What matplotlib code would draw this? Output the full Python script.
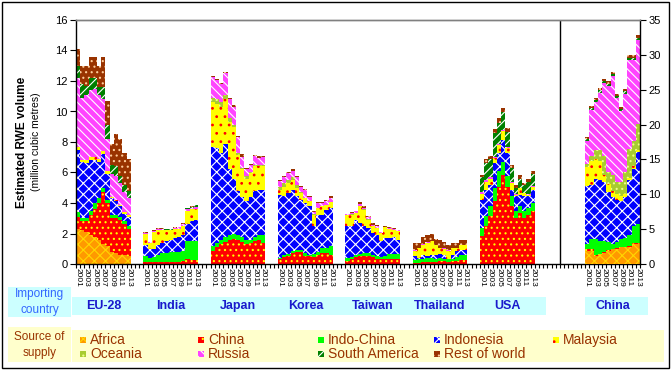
import numpy as np
import matplotlib.pyplot as plt
import matplotlib.transforms as mtransforms
from matplotlib.patches import Rectangle

plt.rcParams['font.family'] = ['Liberation Sans', 'DejaVu Sans']
plt.rcParams['hatch.linewidth'] = 0.8

countries = ['EU-28', 'India', 'Japan', 'Korea', 'Taiwan', 'Thailand', 'USA', 'China']
years = list(range(2001, 2014))
sources = ['Africa', 'China', 'Indo-China', 'Indonesia', 'Malaysia',
           'Oceania', 'Russia', 'South America', 'Rest of world']

# million m3 RWE, one row per importing country (order of `countries`), 2001..2013
# (China's row is read against the right axis)
africa = [
    [2.3, 2.2, 2.1, 1.9, 1.8, 1.6, 1.3, 1.2, 0.8, 0.7, 0.6, 0.6, 0.5],
    [0] * 13, [0] * 13, [0] * 13, [0] * 13, [0] * 13, [0] * 13,
    [1.9, 1.9, 1.2, 1.4, 1.6, 1.9, 2.1, 2.2, 2.4, 2.4, 2.5, 2.9, 2.9],
]
china = [
    [0.8, 0.6, 0.7, 1.3, 1.8, 2.4, 3.4, 2.8, 2.2, 2.3, 2.3, 2.0, 1.8],
    [0.15, 0.1, 0.1, 0.15, 0.15, 0.15, 0.15, 0.15, 0.15, 0.2, 0.3, 0.25, 0.25],
    [0.85, 1.1, 1.3, 1.45, 1.6, 1.65, 1.6, 1.45, 1.3, 1.35, 1.5, 1.55, 1.4],
    [0.34, 0.45, 0.55, 0.72, 0.76, 0.76, 0.55, 0.5, 0.45, 0.6, 0.72, 0.72, 0.6],
    [0.2, 0.3, 0.45, 0.5, 0.55, 0.55, 0.45, 0.35, 0.3, 0.3, 0.35, 0.35, 0.35],
    [0.05, 0.05, 0.1, 0.15, 0.15, 0.15, 0.2, 0.2, 0.15, 0.2, 0.2, 0.25, 0.25],
    [1.82, 2.52, 3.12, 4.1, 5.08, 5.85, 5.08, 3.78, 3.02, 3.34, 3.02, 3.24, 3.45],
    [0.2, 0.2, 0.1, 0.05, 0.05, 0.05, 0.05, 0.05, 0.05, 0.05, 0.05, 0.05, 0.05],
]
indo_china = [
    [0.3, 0.2, 0.2, 0.3, 0.4, 0.3, 0.3, 0.2, 0.2, 0.2, 0.2, 0.2, 0.2],
    [0.4, 0.3, 0.35, 0.45, 0.55, 0.6, 0.65, 0.65, 0.65, 0.65, 1.2, 1.25, 1.25],
    [0.3, 0.3, 0.3, 0.3, 0.3, 0.3, 0.3, 0.3, 0.25, 0.25, 0.25, 0.35, 0.5],
    [0.06, 0.15, 0.12, 0.11, 0.19, 0.19, 0.17, 0.1, 0.22, 0.16, 0.33, 0.33, 0.6],
    [0.2, 0.15, 0.15, 0.15, 0.15, 0.15, 0.15, 0.15, 0.15, 0.2, 0.3, 0.3, 0.3],
    [0.18, 0.25, 0.26, 0.25, 0.25, 0.21, 0.2, 0.16, 0.15, 0.13, 0.25, 0.33, 0.37],
    [0.55, 0.6, 0.66, 0.88, 0.99, 0.87, 0.66, 0.65, 0.43, 0.44, 0.43, 0.43, 0.55],
    [0.8, 1.5, 2.3, 1.85, 1.65, 1.15, 0.75, 0.85, 1.15, 1.35, 1.55, 2.55, 2.75],
]
indonesia = [
    [4.1, 3.7, 3.6, 3.35, 2.8, 2.4, 2.2, 1.7, 1.1, 0.9, 0.7, 0.5, 0.6],
    [0.7, 0.6, 0.55, 0.65, 0.7, 0.75, 0.8, 0.9, 0.95, 1.05, 1.1, 1.35, 1.4],
    [6.5, 6.2, 5.65, 6.15, 4.3, 3.65, 2.9, 2.65, 2.55, 2.8, 3.05, 2.95, 2.95],
    [4.14, 3.83, 3.98, 4.04, 3.48, 3.25, 3.26, 3.18, 1.8, 2.48, 2.19, 2.51, 2.47],
    [2.07, 2.02, 2.3, 2.04, 1.77, 1.66, 1.44, 1.39, 1.04, 1.2, 1.05, 1.1, 0.95],
    [0.28, 0.1, 0.26, 0.11, 0.22, 0.22, 0.26, 0.26, 0.06, 0.29, 0.39, 0.37, 0.33],
    [1.83, 1.75, 1.42, 1.62, 1.2, 1.42, 1.53, 0.44, 0.98, 0.77, 0.98, 0.76, 0.87],
    [8.3, 7.7, 8.6, 8.7, 8.4, 7.2, 6.7, 6.1, 5.4, 5.8, 7.9, 8.1, 10.3],
]
malaysia = [
    [0.2, 0.15, 0.2, 0.15, 0.2, 0.2, 0.2, 0.2, 0.1, 0.1, 0.1, 0.1, 0.1],
    [0.75, 0.4, 1.1, 0.95, 0.8, 0.7, 0.6, 0.6, 0.55, 0.6, 0.85, 0.75, 0.7],
    [2.95, 2.9, 3.05, 2.95, 3.1, 3.4, 2.35, 1.8, 1.5, 1.55, 1.6, 1.55, 1.55],
    [0.33, 0.65, 0.65, 0.63, 0.54, 0.45, 0.32, 0.32, 0.77, 0.43, 0.54, 0.33, 0.37],
    [0.73, 0.77, 0.44, 1.09, 1.09, 0.55, 0.43, 0.47, 0.55, 0.71, 0.62, 0.5, 0.58],
    [0.37, 0.65, 0.61, 0.87, 0.88, 0.65, 0.39, 0.38, 0.52, 0.43, 0.21, 0.28, 0.28],
    [0.4, 0.53, 0.4, 0.34, 0.53, 0.56, 0.33, 0.43, 0.12, 0.43, 0.21, 0.12, 0.21],
    [2.7, 3.5, 2.8, 2.8, 1.0, 1.2, 0.9, 0.8, 0.7, 0.5, 0.4, 0.4, 0.3],
]
oceania = [
    [0] * 13, [0] * 13,
    [0.3, 0.3, 0.3, 0.25, 0.25, 0.1, 0.15, 0.1, 0.2, 0.05, 0.1, 0.1, 0.1],
    [0.2, 0.2, 0.2, 0.2, 0.18, 0.1, 0.05, 0.05, 0.06, 0.03, 0.02, 0.01, 0.01],
    [0.02, 0.03, 0.03, 0.03, 0.02, 0.02, 0, 0, 0, 0, 0, 0, 0],
    [0] * 13, [0] * 13,
    [0.4, 0.7, 1.3, 1.5, 2.8, 1.7, 2.2, 1.7, 2.0, 3.1, 4.1, 3.7, 3.8],
]
russia = [
    [4.5, 4.05, 4.3, 4.4, 4.5, 4.2, 3.4, 2.1, 1.5, 1.6, 1.4, 1.3, 1.1],
    [0.05, 0.05, 0.05, 0.08, 0.08, 0.05, 0.05, 0.05, 0.1, 0.1, 0.15, 0.1, 0.15],
    [1.35, 1.25, 1.2, 1.4, 1.3, 1.2, 1.0, 0.7, 0.4, 0.5, 0.55, 0.45, 0.5],
    [0.36, 0.45, 0.45, 0.4, 0.53, 0.3, 0.5, 0.23, 0.12, 0.28, 0.18, 0.2, 0.25],
    [0.05, 0.08, 0.08, 0.15, 0.12, 0.12, 0.12, 0.1, 0.03, 0.03, 0.04, 0.06, 0.04],
    [0.02, 0.02, 0.05, 0.03, 0.03, 0.02, 0.02, 0.02, 0.02, 0.02, 0.02, 0.02, 0.02],
    [0.1, 0.1, 0.1, 0.06, 0.1, 0.1, 0.1, 0.1, 0.05, 0.02, 0.02, 0.05, 0.02],
    [3.3, 6.6, 6.9, 8.3, 10.4, 12.3, 14.3, 12.1, 10.2, 11.2, 12.8, 11.6, 12.0],
]
south_america = [
    [0.8, 0.9, 0.6, 0.8, 0.7, 0.5, 0.8, 0.9, 0.6, 0.6, 0.5, 0.5, 0.5],
    [0, 0, 0, 0.02, 0.02, 0.03, 0.03, 0.03, 0.02, 0.02, 0.05, 0.05, 0.1],
    [0] * 13, [0] * 13, [0] * 13, [0] * 13,
    [1.0, 1.1, 1.2, 1.57, 1.37, 1.2, 0.98, 0.9, 0.4, 0.6, 0.49, 0.8, 0.8],
    [0.3, 0.3, 0.3, 0.3, 0.3, 0.3, 0.3, 0.3, 0.3, 0.4, 0.3, 0.3, 0.3],
]
rest_of_world = [
    [1.1, 1.2, 1.3, 1.4, 1.4, 1.4, 2.0, 1.6, 1.4, 2.1, 2.4, 2.1, 2.1],
    [0.05, 0, 0.05, 0.05, 0.05, 0.02, 0.02, 0.02, 0.03, 0.08, 0.05, 0.05, 0.05],
    [0.1, 0.05, 0.05, 0.1, 0.05, 0.1, 0.1, 0.2, 0.1, 0.07, 0.1, 0.1, 0.1],
    [0.05, 0.05, 0.05, 0.1, 0.06, 0.05, 0.05, 0.05, 0.03, 0.06, 0.06, 0.07, 0.13],
    [0.01, 0.06, 0.05, 0.1, 0.08, 0.07, 0.1, 0.08, 0.03, 0.03, 0.04, 0.05, 0.03],
    [0.48, 0.31, 0.47, 0.52, 0.45, 0.42, 0.53, 0.43, 0.33, 0.31, 0.31, 0.35, 0.35],
    [0.15, 0.28, 0.2, 0.27, 0.28, 0.2, 0.22, 0.2, 0.2, 0.25, 0.15, 0.2, 0.17],
    [0.3, 0.3, 0.3, 0.4, 0.4, 0.4, 0.3, 0.3, 0.3, 0.3, 0.4, 0.4, 0.5],
]
series = [africa, china, indo_china, indonesia, malaysia,
          oceania, russia, south_america, rest_of_world]

# look of each source: face colour, hatch, hatch colour
face = ['#FF9900', '#FF0000', '#00FF00', '#0000FF', '#FFFF00',
        '#A8CC30', '#FF44FF', '#008000', '#993300']
hatch = ['xxx', '...', None, 'xxx', '..', '...', '\\\\\\\\', '////', '...']
hcol = ['#FFD700', '#FFFF00', '#00FF00', '#FFFFFF', '#FF0000',
        '#EEFF88', '#FFFFFF', '#FFFFFF', '#FFCC99']

W, H = 672, 370
fig = plt.figure(figsize=(W / 100, H / 100), dpi=100)
fig.patch.set_facecolor('white')

ax = fig.add_axes([76 / W, 106 / H, 564 / W, 244 / H])
ax2 = ax.twinx()

group_start = [0, 16, 32, 48, 64, 80, 96, 121]
n = len(years)
for g, c in enumerate(countries):
    tgt = ax2 if c == 'China' else ax
    x = group_start[g] + np.arange(n)
    bottom = np.zeros(n)
    for s in range(len(sources)):
        h = np.array(series[s][g], dtype=float)
        tgt.bar(x, h, bottom=bottom, width=1.0, color=face[s], hatch=hatch[s],
                edgecolor=hcol[s], linewidth=0)
        bottom += h

ax.set_xlim(-0.5, 133.5)
ax.set_ylim(0, 16)
ax2.set_ylim(0, 35)
ax.set_yticks(np.arange(0, 17, 2))
ax2.set_yticks(np.arange(0, 36, 5))
ax.axvline(114.5, color='black', lw=1)

# year labels every other bar, ticks at every slot boundary
lab_pos, lab_txt = [], []
for g in range(len(countries)):
    for i in range(0, n, 2):
        lab_pos.append(group_start[g] + i)
        lab_txt.append(str(years[i]))
ax.set_xticks(lab_pos)
ax.set_xticklabels(lab_txt, rotation=270, fontsize=6)
ax.set_xticks(np.arange(-0.5, 134, 1), minor=True)
ax.tick_params(axis='x', which='major', length=0, pad=3)
ax.tick_params(axis='x', which='minor', length=3, width=0.8, direction='out')
ax.tick_params(axis='y', length=4, width=0.8, labelsize=8, pad=2)
ax2.tick_params(axis='y', length=4, width=0.8, labelsize=8, pad=2)

for a in (ax, ax2):
    a.spines['top'].set_color('#808080')
    a.spines['top'].set_linewidth(1)
ax.spines['right'].set_visible(False)
ax2.spines['left'].set_visible(False)
ax2.spines['bottom'].set_visible(False)
ax.spines['left'].set_linewidth(1)
ax.spines['bottom'].set_linewidth(1)
ax2.spines['right'].set_linewidth(1)

fig.text(22 / W, 1 - 142 / H, 'Estimated RWE volume', rotation=90, ha='center',
         va='center', fontsize=8.5, fontweight='bold')
fig.text(36 / W, 1 - 142 / H, '(million cubic metres)', rotation=90, ha='center',
         va='center', fontsize=7.5)


def box(x0, y0, x1, y1, color):
    fig.add_artist(Rectangle((x0 / W, 1 - y1 / H), (x1 - x0) / W, (y1 - y0) / H,
                             transform=fig.transFigure, facecolor=color,
                             edgecolor='none', zorder=-1))


cyan = '#CCFFFF'
cream = '#FFFFCC'
box(8, 287, 71, 317, cyan)
box(72, 297, 546, 315, cyan)
box(585, 297, 648, 315, cyan)
box(8, 327, 71, 362, cream)
box(72, 330, 664, 362, cream)

fig.text(39.5 / W, 1 - 302 / H, 'Importing\ncountry', ha='center', va='center',
         fontsize=8.5, color='#3366FF', linespacing=1.35)
fig.text(39.5 / W, 1 - 345 / H, 'Source of\nsupply', ha='center', va='center',
         fontsize=8.5, color='#993300', linespacing=1.35)

blend = mtransforms.blended_transform_factory(ax.transData, fig.transFigure)
for g, c in enumerate(countries):
    ax.text(group_start[g] + (n - 1) / 2, 1 - 306 / H, c, transform=blend,
            ha='center', va='center', fontsize=9, fontweight='bold',
            color='#1A1ACC', clip_on=False)

# legend, two rows in the cream band
col_x = [80, 198, 318, 434, 553]
row_y = [340, 354]
for s, name in enumerate(sources):
    r, k = (0, s) if s < 5 else (1, s - 5)
    px, py = col_x[k], row_y[r]
    fig.add_artist(Rectangle((px / W, 1 - (py + 3) / H), 6 / W, 6 / H,
                             transform=fig.transFigure, facecolor=face[s],
                             hatch=hatch[s], edgecolor=hcol[s], linewidth=0))
    fig.text((px + 10) / W, 1 - py / H, name, ha='left', va='center',
             fontsize=10, color='#993300')

# outer frame
fig.add_artist(Rectangle((2 / W, 2 / H), 667 / W, 366 / H, transform=fig.transFigure,
                         fill=False, edgecolor='black', linewidth=1))

fig.savefig('out.png', dpi=100)
